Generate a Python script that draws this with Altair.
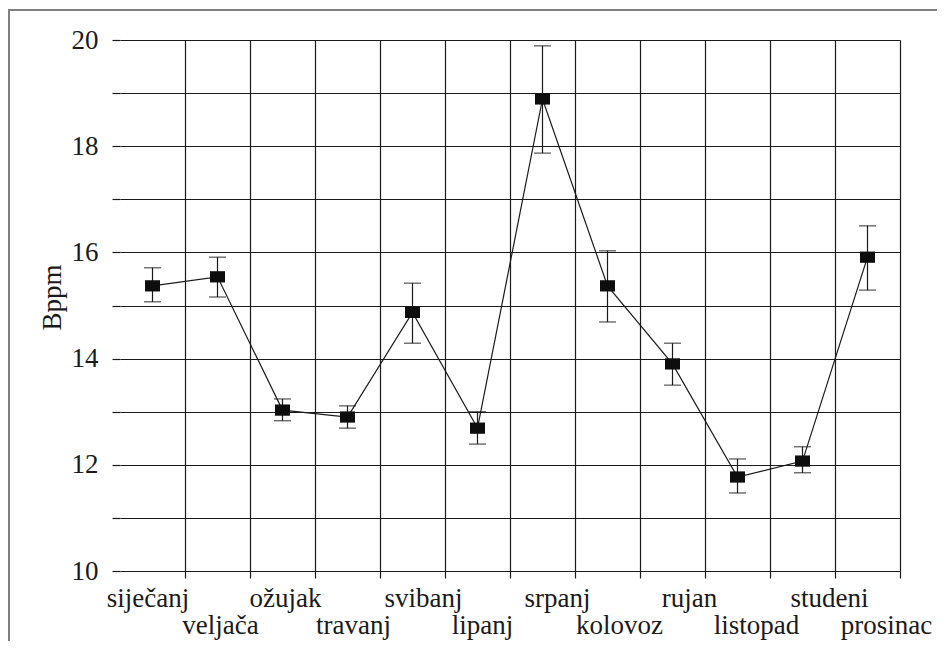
import altair as alt
import pandas as pd

# ---- data ----
months = ["siječanj", "veljača", "ožujak", "travanj", "svibanj", "lipanj",
          "srpanj", "kolovoz", "rujan", "listopad", "studeni", "prosinac"]
means = [15.37, 15.54, 13.03, 12.90, 14.87, 12.69, 18.89, 15.37, 13.90, 11.77, 12.07, 15.91]
upper = [15.71, 15.91, 13.24, 13.11, 15.42, 13.00, 19.89, 16.03, 14.29, 12.11, 12.34, 16.50]
lower = [15.07, 15.16, 12.83, 12.69, 14.29, 12.39, 17.87, 14.69, 13.50, 11.47, 11.85, 15.29]
y_ticks = list(range(10, 21))

# label nudges (style only)
label_nudge = [-5, 2.5, 2.5, 5.5, 10.5, 4.5, 14.5, 11.5, 16.5, 18.5, 26.5, 18.5]

df = pd.DataFrame({"month": months, "mean": means, "hi": upper, "lo": lower})

second_row = months[1::2]
second_row_js = "[" + ",".join("'" + m + "'" for m in second_row) + "]"

FONT = "Liberation Serif"
INK = "#1a1a1a"

hide_extra = {"condition": {"test": "datum.extra", "value": "transparent"}, "value": INK}

x_axis = alt.Axis(
    title=None,
    tickBand="extent",
    grid=True,
    gridColor=hide_extra,
    gridWidth=1.2,
    tickColor=hide_extra,
    tickSize=7,
    tickWidth=1.2,
    domain=False,
    labelFont=FONT,
    labelFontSize=27,
    labelColor=INK,
    labelAngle=0,
    labelBaseline="alphabetic",
    labelPadding={"condition": {"test": "indexof(" + second_row_js + ", datum.value) >= 0", "value": 55},
                  "value": 28},
    labelOffset={"condition": [{"test": "datum.value == '" + m + "'", "value": o}
                               for m, o in zip(months, label_nudge)],
                 "value": 0},
)

y_axis = alt.Axis(
    title="Bppm",
    values=y_ticks,
    labelExpr="datum.value % 2 == 0 ? datum.label : ''",
    grid=True,
    gridColor=INK,
    gridWidth=1.2,
    tickColor=INK,
    tickSize=8,
    tickWidth=1.2,
    domain=False,
    labelFont=FONT,
    labelFontSize=27,
    labelColor=INK,
    labelPadding=14,
    labelBaseline="middle",
    titleFont=FONT,
    titleFontSize=27,
    titleFontWeight="normal",
    titleColor=INK,
    titleAngle=270,
    titleX=-68,
    titleY=257,
    titleAlign="center",
    titleBaseline="middle",
)

x_enc = alt.X("month:N", sort=months, scale=alt.Scale(paddingInner=0, paddingOuter=0), axis=x_axis)
y_scale = alt.Scale(domain=[10, 20], nice=False, zero=False)

base = alt.Chart(df)

bars = base.mark_rule(color=INK, strokeWidth=1.2).encode(
    x=x_enc,
    y=alt.Y("lo:Q", scale=y_scale, axis=y_axis),
    y2="hi:Q",
)
caps_hi = base.mark_tick(color=INK, thickness=1.3, size=17).encode(
    x=x_enc, y=alt.Y("hi:Q", scale=y_scale, axis=y_axis)
)
caps_lo = base.mark_tick(color=INK, thickness=1.3, size=17).encode(
    x=x_enc, y=alt.Y("lo:Q", scale=y_scale, axis=y_axis)
)
line = base.mark_line(color=INK, strokeWidth=1.2).encode(
    x=x_enc, y=alt.Y("mean:Q", scale=y_scale, axis=y_axis)
)
pts = base.mark_point(
    shape="M-1,-0.75L1,-0.75L1,0.75L-1,0.75Z", filled=True, size=225, color="#0d0d0d", opacity=1
).encode(x=x_enc, y=alt.Y("mean:Q", scale=y_scale, axis=y_axis))

frame_data = alt.Data(values=[{"k": 1}])
frame_left = alt.Chart(frame_data).mark_rule(color="#808080", strokeWidth=2).encode(
    x=alt.value(-111), y=alt.value(-30), y2=alt.value(700)
)
frame_top = alt.Chart(frame_data).mark_rule(color="#808080", strokeWidth=2).encode(
    x=alt.value(-112), x2=alt.value(840), y=alt.value(-30)
)

chart = alt.layer(bars, caps_hi, caps_lo, line, pts, frame_left, frame_top).properties(
    width=780,
    height=531,
    padding={"left": 112, "top": 32, "right": 37, "bottom": 70},
    autosize=alt.AutoSizeParams(type="none"),
    background="white",
).configure_view(stroke=None)

chart.save("out.html", embed_options={"renderer": "svg", "actions": False})
